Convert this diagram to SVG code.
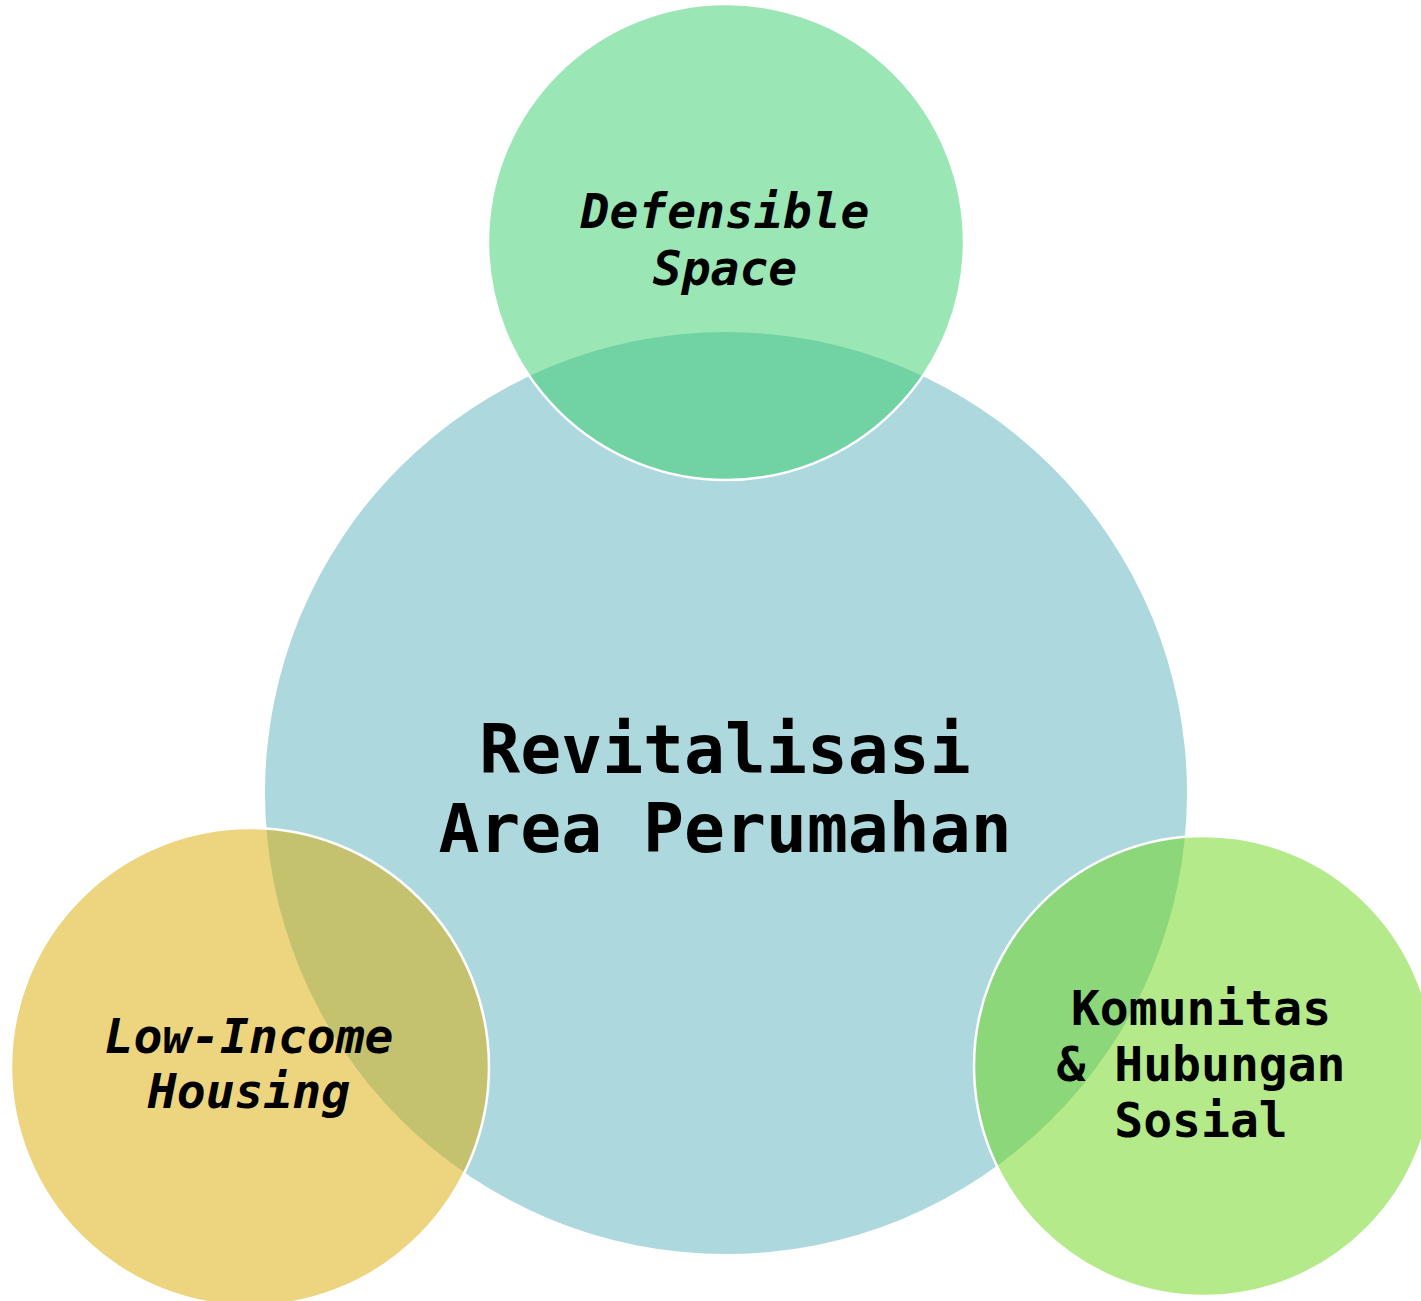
<svg xmlns="http://www.w3.org/2000/svg" width="1421" height="1301" viewBox="0 0 1421 1301">
<style>
.c{stroke:#ffffff;stroke-width:2.5}
.t{font-family:"DejaVu Sans Mono","Liberation Mono",monospace;font-weight:bold;fill:#000;text-anchor:middle}
.i{font-style:italic}
</style>
<rect width="1421" height="1301" fill="#ffffff"/>
<g id="center">
<circle cx="726" cy="793" r="461" fill="#ADD8DD"/>
</g>
<g id="connectors"></g>
<g id="defensible-space">
<circle class="c" cx="726" cy="242" r="238" fill="#35CD69" fill-opacity="0.5"/>
<text class="t i" font-size="48" x="725" y="228">Defensible</text>
<text class="t i" font-size="48" x="725" y="285">Space</text>
</g>
<g id="low-income-housing">
<circle class="c" cx="250" cy="1067" r="239" fill="#DBAB01" fill-opacity="0.5"/>
<text class="t i" font-size="48" x="249" y="1053">Low-Income</text>
<text class="t i" font-size="48" x="249" y="1108">Housing</text>
</g>
<g id="komunitas">
<circle class="c" cx="1204" cy="1066" r="230" fill="#69D515" fill-opacity="0.5"/>
<text class="t" font-size="48" x="1201" y="1025">Komunitas</text>
<text class="t" font-size="48" x="1201" y="1081">&amp; Hubungan</text>
<text class="t" font-size="48" x="1201" y="1137">Sosial</text>
</g>
<g id="center-label">
<text class="t" font-size="68" x="725" y="773">Revitalisasi</text>
<text class="t" font-size="68" x="725" y="852">Area Perumahan</text>
</g>
</svg>
